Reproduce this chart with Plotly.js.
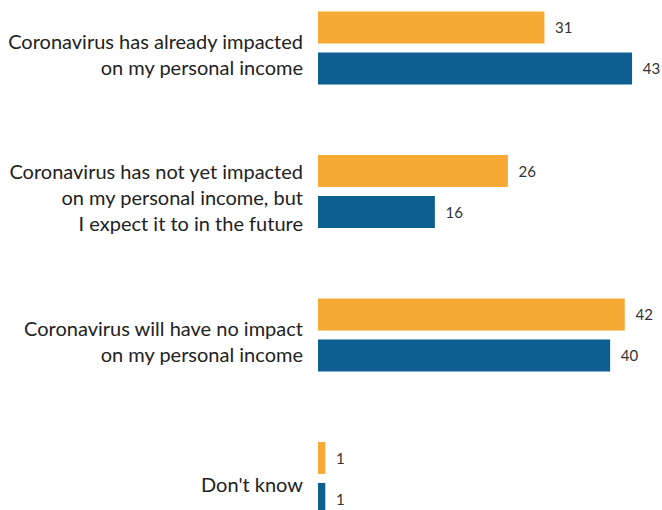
<!DOCTYPE html>
<html><head><meta charset="utf-8">
<script src="https://cdn.plot.ly/plotly-3.0.1.min.js"></script>
<style>html,body{margin:0;padding:0;background:#fff;}</style>
</head><body>
<div id="chart" style="width:662px;height:510px;"></div>
<script>
const categories = [
  "Coronavirus has already impacted<br>on my personal income",
  "Coronavirus has not yet impacted<br>on my personal income, but<br>I expect it to in the future",
  "Coronavirus will have no impact<br>on my personal income",
  "Don't know"
];
const seriesOrange = [31, 26, 42, 1];
const seriesBlue = [43, 16, 40, 1];
const seriesNames = ["Series 1", "Series 2"];

const pad = s => "\u00a0\u00a0" + s;
const traces = [
  {type:"bar", orientation:"h", name:seriesNames[0], y:categories, x:seriesOrange,
   marker:{color:"#F6A935"}, text:seriesOrange.map(v=>pad(v)), textposition:"outside",
   textfont:{family:"Lato, sans-serif", size:15, color:"#333"}, cliponaxis:false, hoverinfo:"none"},
  {type:"bar", orientation:"h", name:seriesNames[1], y:categories, x:seriesBlue,
   marker:{color:"#0C5F90"}, text:seriesBlue.map(v=>pad(v)), textposition:"outside",
   textfont:{family:"Lato, sans-serif", size:15, color:"#333"}, cliponaxis:false, hoverinfo:"none"}
];
const layout = {
  width:662, height:510,
  margin:{l:318, r:0, t:0, b:0},
  barmode:"group", bargap:0.429, bargroupgap:0.22,
  showlegend:false,
  paper_bgcolor:"#fff", plot_bgcolor:"#fff",
  xaxis:{range:[0,47.1], visible:false, fixedrange:true},
  yaxis:{type:"category", range:[3.22,-0.334], showgrid:false, zeroline:false, showline:false,
         ticks:"", ticklabelstandoff:14, ticklabelshift:-7,
         tickfont:{family:"Lato, sans-serif", size:20, color:"#222"}}
};
Plotly.newPlot("chart", traces, layout, {displayModeBar:false, staticPlot:true});
</script>
</body></html>
